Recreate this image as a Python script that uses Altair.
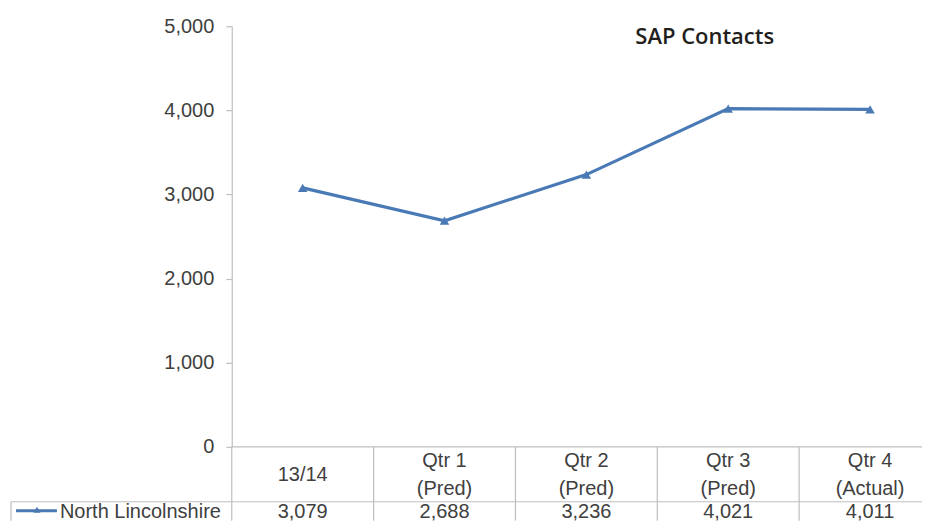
import altair as alt
import pandas as pd

# ---- data ----
categories = ["13/14", "Qtr 1\n(Pred)", "Qtr 2\n(Pred)", "Qtr 3\n(Pred)", "Qtr 4\n(Actual)"]
values = [3079, 2688, 3236, 4021, 4011]
series_name = "North Lincolnshire"
y_ticks = [0, 1000, 2000, 3000, 4000, 5000]
title_text = "SAP Contacts"

df = pd.DataFrame({"cat": categories, "value": values, "series": series_name})
one = pd.DataFrame({"series": [series_name]})

# ---- layout / style ----
W = 691            # visible plot width (page is cut at the right edge)
BAND_RANGE = 710   # columns are 142px wide; the last one runs off the page
CHART_H = 421
HEADER_H = 55
ROW_H = 19
H = CHART_H + HEADER_H + ROW_H
LEFT = -221
ROW_Y = CHART_H + HEADER_H + 10

LINE = "#4a7ab5"
GRID = "#bfbfbf"
TXT = "#404040"
FONT = "Liberation Sans"

xband = alt.Scale(type="band", paddingInner=0, paddingOuter=0, range=[0, BAND_RANGE])
x = alt.X("cat:N", sort=categories, axis=None, scale=xband)
x0 = alt.X("cat:N", sort=categories, axis=None, scale=xband, bandPosition=0)

yenc = alt.Y(
    "value:Q",
    scale=alt.Scale(domain=[0, 5000], range=[CHART_H, 0]),
    axis=alt.Axis(
        values=y_ticks, format=",.0f", title=None, grid=False,
        labelFont=FONT, labelFontSize=20, labelColor=TXT, labelPadding=12,
        tickColor=GRID, tickSize=6, domainColor=GRID, domainWidth=1.2, tickWidth=1.2,
    ),
)

base = alt.Chart(df)

line = base.mark_line(color=LINE, strokeWidth=3.2).encode(x=x, y=yenc)
pts = base.mark_point(shape="triangle-up", filled=True, size=90, color=LINE, opacity=1).encode(x=x, y=yenc)

# table borders
col_rules = base.mark_rule(color=GRID, strokeWidth=1.2).encode(
    x=x0, y=alt.value(CHART_H), y2=alt.value(H)
)
zero_rule = alt.Chart(one).mark_rule(color=GRID, strokeWidth=1.2).encode(
    x=alt.value(0), x2=alt.value(W), y=alt.value(CHART_H)
)
row_rule = alt.Chart(one).mark_rule(color=GRID, strokeWidth=1.2).encode(
    x=alt.value(LEFT), x2=alt.value(W), y=alt.value(CHART_H + HEADER_H)
)
left_rule = alt.Chart(one).mark_rule(color=GRID, strokeWidth=1.2).encode(
    x=alt.value(LEFT), y=alt.value(CHART_H + HEADER_H), y2=alt.value(H)
)

# table text (two-line headers are lifted half a line so the block is centred)
header = base.transform_calculate(
    yoff="indexof(datum.cat, '\\n') >= 0 ? -14 : 0"
).mark_text(
    font=FONT, fontSize=20, color=TXT, lineBreak="\n", lineHeight=28, baseline="middle"
).encode(
    x=x, y=alt.value(CHART_H + 28), yOffset=alt.YOffset("yoff:Q", scale=None), text="cat:N"
)
vals = base.mark_text(font=FONT, fontSize=20, color=TXT, baseline="middle").encode(
    x=x, y=alt.value(ROW_Y), text=alt.Text("value:Q", format=",.0f")
)

# legend cell
leg_line = alt.Chart(one).mark_rule(color=LINE, strokeWidth=3).encode(
    x=alt.value(LEFT + 5), x2=alt.value(LEFT + 46), y=alt.value(ROW_Y - 1)
)
leg_pt = alt.Chart(one).mark_point(shape="triangle-up", filled=True, size=50, color=LINE, opacity=1).encode(
    x=alt.value(LEFT + 26), y=alt.value(ROW_Y - 2)
)
leg_txt = alt.Chart(one).mark_text(font=FONT, fontSize=20, color=TXT, align="left", baseline="middle").encode(
    x=alt.value(LEFT + 49), y=alt.value(ROW_Y), text="series:N"
)

chart = alt.layer(
    col_rules, zero_rule, row_rule, left_rule, line, pts, header, vals, leg_line, leg_pt, leg_txt
).properties(
    width=W,
    height=H,
    padding={"left": 2, "top": 8, "right": 0, "bottom": 0},
    title=alt.Title(
        title_text, font="Open Sans", fontSize=22, fontWeight=600, color="#231f20",
        anchor="start", frame="group", dx=404, offset=-33,
    ),
).configure_view(stroke=None)

chart.save("out.html", embed_options={"renderer": "svg", "actions": False})
